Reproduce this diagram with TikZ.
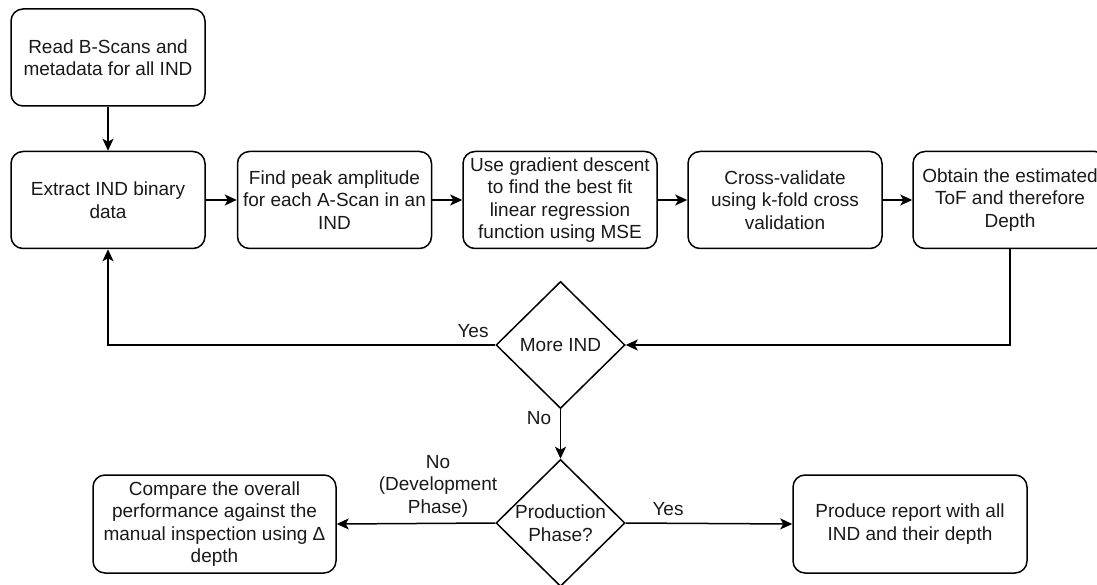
\documentclass[tikz,border=0pt]{standalone}
\usepackage{fontspec}
\setmainfont{Liberation Sans}
\usetikzlibrary{shapes.geometric,arrows.meta}
\begin{document}
\begin{tikzpicture}[x=1pt,y=-1pt,
  every node/.style={font=\fontsize{19}{22.5}\selectfont, text=black!90},
  box/.style={draw, line width=1.5pt, rounded corners=12pt, minimum width=194pt, minimum height=97pt, align=center, inner sep=0pt},
  dia/.style={draw, diamond, line width=1.5pt, minimum width=129pt, minimum height=127pt, inner sep=0pt},
  lbl/.style={align=center, inner sep=0pt},
  arr/.style={line width=1.5pt, -{Stealth[length=12pt,width=11pt,inset=3pt]}}]
\useasboundingbox (0,0) rectangle (1097,585);
\node[box] (b1) at (108,57.5) {Read B-Scans and\\metadata for all IND};
\node[box] (b2) at (108,200) {Extract IND binary\\data};
\node[box] (b3) at (334.5,200) {Find peak amplitude\\for each A-Scan in an\\IND};
\node[box] (b4) at (560,200) {Use gradient descent\\to find the best fit\\linear regression\\function using MSE};
\node[box] (b5) at (785,200) {Cross-validate\\using k-fold cross\\validation};
\node[box] (b6) at (1010,200) {Obtain the estimated\\ToF and therefore\\Depth};
\node[dia] (d1) at (560.5,345) {};
\node[lbl] (d1t) at (d1.center) {More IND};
\node[dia] (d2) at (560.5,523) {};
\node[lbl] (d2t) at (d2.center) {Production\\Phase?};
\node[box, minimum width=243pt, minimum height=98pt] (c) at (214.5,524) {Compare the overall\\performance against the\\manual inspection using Δ\\depth};
\node[box, minimum width=234pt, minimum height=98pt] (p) at (910,524) {Produce report with all\\IND and their depth};
\draw[arr] (b1) -- (b2);
\draw[arr] (b2) -- (b3);
\draw[arr] (b3) -- (b4);
\draw[arr] (b4) -- (b5);
\draw[arr] (b5) -- (b6);
\draw[arr] (b6.south) |- (d1.east);
\draw[arr] (d1.west) -| (b2.south);
\draw[arr] (d1.south) -- (d2.north);
\draw[arr] (d2.west) -- (c.east);
\draw[arr] (d2.east) -- (p.west);
\node[lbl] (lyes1) at (473,331) {Yes};
\node[lbl] (lno1) at (539,418) {No};
\node[lbl] (lno2) at (438,486) {No\\(Development\\Phase)};
\node[lbl] (lyes2) at (668,509) {Yes};
\end{tikzpicture}
\end{document}
